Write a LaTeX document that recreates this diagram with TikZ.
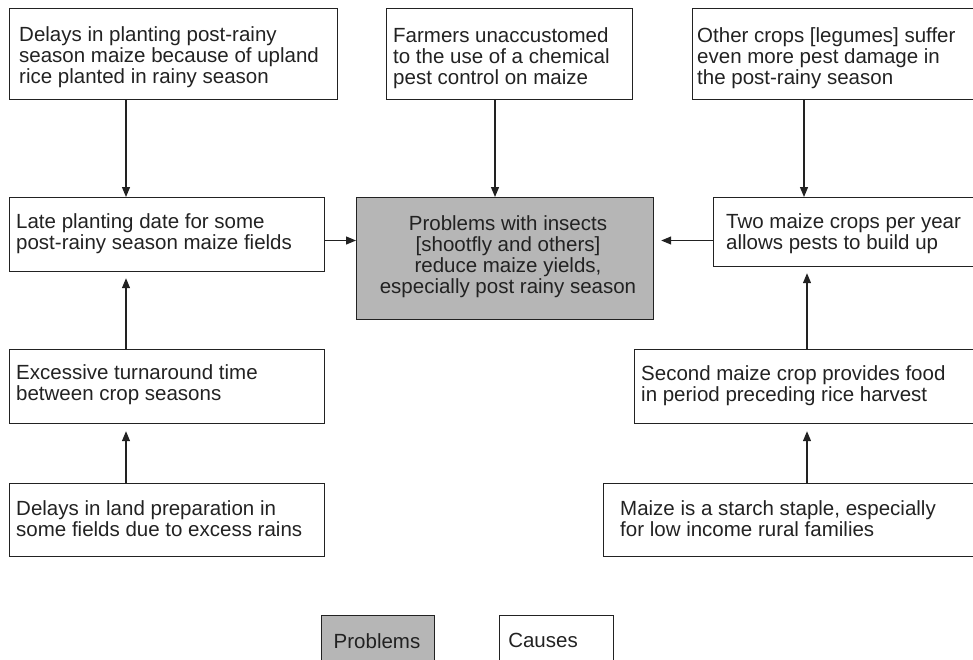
\documentclass[tikz,border=0pt]{standalone}
\usepackage{fontspec}
\setmainfont{Liberation Sans}
\usetikzlibrary{arrows.meta}
\definecolor{ink}{HTML}{222222}
\definecolor{probfill}{HTML}{B6B6B6}
\begin{document}
\begin{tikzpicture}[x=1pt,y=-1pt,
  box/.style={draw=ink, line width=1.2pt, rectangle, inner sep=0pt, anchor=north west},
  prob/.style={box, fill=probfill},
  txt/.style={inner sep=0pt, anchor=north west, align=left, text=ink,
    font=\fontsize{20.5}{21}\selectfont},
  ctxt/.style={txt, anchor=north, align=center},
  arr/.style={draw=ink, line width=1.2pt, -{Triangle[length=10pt,width=8pt]}},
]
\useasboundingbox (0,0) rectangle (973,659);
\clip (0,0) rectangle (973,659);

% boxes
\node[box,  minimum width=328pt, minimum height=91pt]  (A) at (9,8) {};
\node[box,  minimum width=246pt, minimum height=91pt]  (B) at (386,8) {};
\node[box,  minimum width=300pt, minimum height=91pt]  (C) at (692,8) {};
\node[box,  minimum width=315pt, minimum height=74pt]  (D) at (9,197) {};
\node[prob, minimum width=297pt, minimum height=122pt] (E) at (356,197) {};
\node[box,  minimum width=300pt, minimum height=69pt]  (F) at (713,197) {};
\node[box,  minimum width=315pt, minimum height=74pt]  (G) at (9,349) {};
\node[box,  minimum width=360pt, minimum height=74pt]  (H) at (634,349) {};
\node[box,  minimum width=315pt, minimum height=73pt]  (I) at (9,483) {};
\node[box,  minimum width=380pt, minimum height=73pt]  (J) at (603,483) {};
\node[prob, minimum width=113pt, minimum height=50pt]  (K) at (321,615) {};
\node[box,  minimum width=114pt, minimum height=50pt]  (L) at (499,615) {};

% texts
\node[txt] (At) at (19,26) {Delays in planting post-rainy\\season maize because of upland\\rice planted in rainy season};
\node[txt] (Bt) at (393,27) {Farmers unaccustomed\\to the use of a chemical\\pest control on maize};
\node[txt] (Ct) at (697,27) {Other crops [legumes] suffer\\even more pest damage in\\the post-rainy season};
\node[txt] (Dt) at (16,213) {Late planting date for some\\post-rainy season maize fields};
\node[ctxt] (Et) at (508,215) {Problems with insects\\[0pt][shootfly and others]\\reduce maize yields,\\especially post rainy season};
\node[txt] (Ft) at (726,213) {Two maize crops per year\\allows pests to build up};
\node[txt] (Gt) at (16,364) {Excessive turnaround time\\between crop seasons};
\node[txt] (Ht) at (641,365) {Second maize crop provides food\\in period preceding rice harvest};
\node[txt] (It) at (16,500) {Delays in land preparation in\\some fields due to excess rains};
\node[txt] (Jt) at (620,500) {Maize is a starch staple, especially\\for low income rural families};
\node[ctxt] (Kt) at (377,633) {Problems};
\node[ctxt] (Lt) at (543,633) {Causes};

% connectors
\coordinate (xl) at (126,0);
\coordinate (xb) at (495,0);
\coordinate (xc) at (804,0);
\coordinate (xr) at (807,0);
\coordinate (yh) at (0,240.5);
\draw[arr] (A.south -| xl) -- (D.north -| xl);
\draw[arr] (B.south -| xb) -- (E.north -| xb);
\draw[arr] (C.south -| xc) -- (F.north -| xc);
\draw[arr] (D.east |- yh) -- (E.west |- yh);
\draw[arr, shorten >=7pt] (F.west |- yh) -- (E.east |- yh);
\draw[arr, shorten >=6pt] (G.north -| xl) -- (D.south -| xl);
\draw[arr, shorten >=7pt] (I.north -| xl) -- (G.south -| xl);
\draw[arr, shorten >=6pt] (H.north -| xr) -- (F.south -| xr);
\draw[arr, shorten >=7pt] (J.north -| xr) -- (H.south -| xr);
\end{tikzpicture}
\end{document}
